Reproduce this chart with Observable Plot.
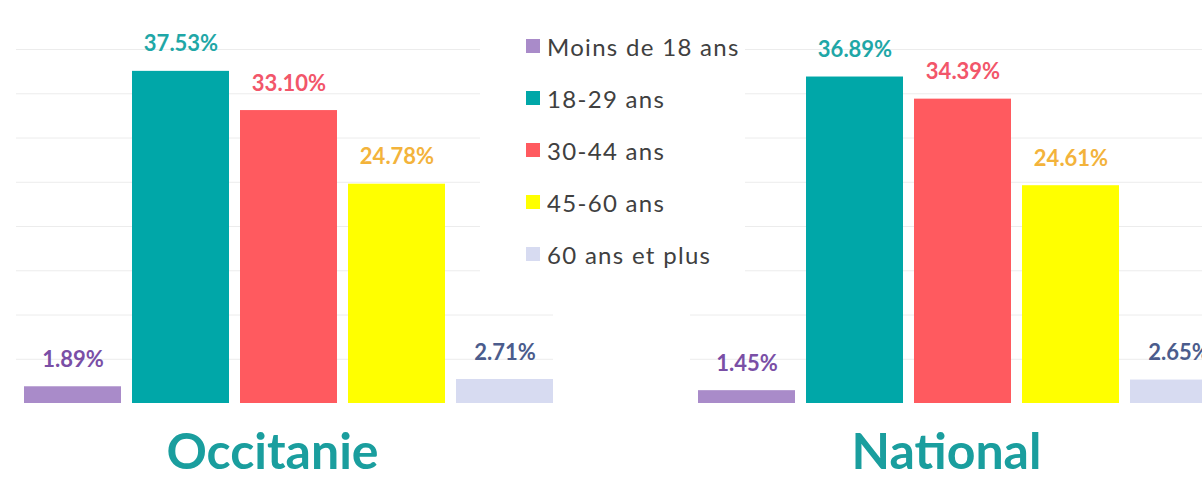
<!DOCTYPE html>
<html>
<head>
<meta charset="utf-8">
<script src="https://cdn.jsdelivr.net/npm/d3@7"></script>
<script src="https://cdn.jsdelivr.net/npm/@observablehq/plot@0.6"></script>
<style>
  html, body { margin: 0; padding: 0; background: #fff; overflow: hidden; width: 1202px; height: 479px; }
  #wrap { position: relative; width: 1202px; height: 479px; overflow: hidden; }
  #chart svg { display: block; max-width: none !important; width: 1240px !important; height: 479px !important; }
  .lg-swatches { position: absolute; left: 480px; top: 20px; width: 265px; height: 272px;
    padding-left: 46px; box-sizing: border-box; background: #fff; margin: 0 !important;
    font-family: Lato, "Open Sans", sans-serif !important; font-size: 24px !important;
    letter-spacing: 1.3px; color: #404040; }
  .lg-swatch { height: 52px; padding-bottom: 0 !important; }
  .lg-swatch > svg { margin-right: 7px !important; }
</style>
</head>
<body>
<div id="wrap"><div id="chart"></div></div>
<script>
// ---- data ----
const regions = ["Occitanie", "National"];
const ageGroups = ["Moins de 18 ans", "18-29 ans", "30-44 ans", "45-60 ans", "60 ans et plus"];
const occitanieValues = [1.89, 37.53, 33.10, 24.78, 2.71];
const nationalValues = [1.45, 36.89, 34.39, 24.61, 2.65];
const gridValues = [5, 10, 15, 20, 25, 30, 35, 40];

// ---- styles ----
const barColors = ["#a98bc9", "#00a7a8", "#ff5a5f", "#ffff00", "#d7dbf1"];
const labelColors = ["#7a4fa6", "#1fa7a7", "#f2566a", "#f3b33b", "#4b5c8c"];
const titleColor = "#1a9e9e";

const barColor = Object.fromEntries(ageGroups.map((a, i) => [a, barColors[i]]));
const labelColor = Object.fromEntries(ageGroups.map((a, i) => [a, labelColors[i]]));

const rows = [];
ageGroups.forEach((age, i) => {
  rows.push({region: regions[0], age, value: occitanieValues[i]});
  rows.push({region: regions[1], age, value: nationalValues[i]});
});

const chart = Plot.plot({
  width: 1240,
  height: 479,
  marginLeft: 22,
  marginRight: 12,
  marginTop: 49,
  marginBottom: 76,
  fx: {domain: regions, paddingInner: 0.2133, paddingOuter: 0, axis: null, label: null},
  x: {domain: ageGroups, paddingInner: 0.106, paddingOuter: 0, axis: null, label: null},
  y: {domain: [0, 40], axis: null, label: null},
  color: {type: "identity"},
  style: {fontFamily: "Lato, 'Open Sans', sans-serif", background: "#fff"},
  marks: [
    Plot.ruleY(gridValues, {stroke: "#ececec", strokeWidth: 1, insetLeft: -7}),
    Plot.barY(rows, {fx: "region", x: "age", y: "value", fill: d => barColor[d.age]}),
    Plot.text(rows, {
      fx: "region", x: "age", y: "value",
      text: d => d.value.toFixed(2) + "%",
      fill: d => labelColor[d.age],
      lineAnchor: "middle", dy: -27,
      fontSize: 22, fontWeight: "bold"
    }),
    Plot.text(regions, {
      fx: d => d, text: d => d,
      frameAnchor: "bottom", lineAnchor: "top", dy: 30, dx: -16,
      fill: titleColor, fontSize: 50, fontWeight: "bold"
    })
  ]
});
document.getElementById("chart").appendChild(chart);

const legend = Plot.legend({
  color: {domain: ageGroups, range: barColors},
  legend: "swatches",
  columns: 1,
  swatchSize: 14,
  className: "lg"
});
document.getElementById("wrap").appendChild(legend);
</script>
</body>
</html>
